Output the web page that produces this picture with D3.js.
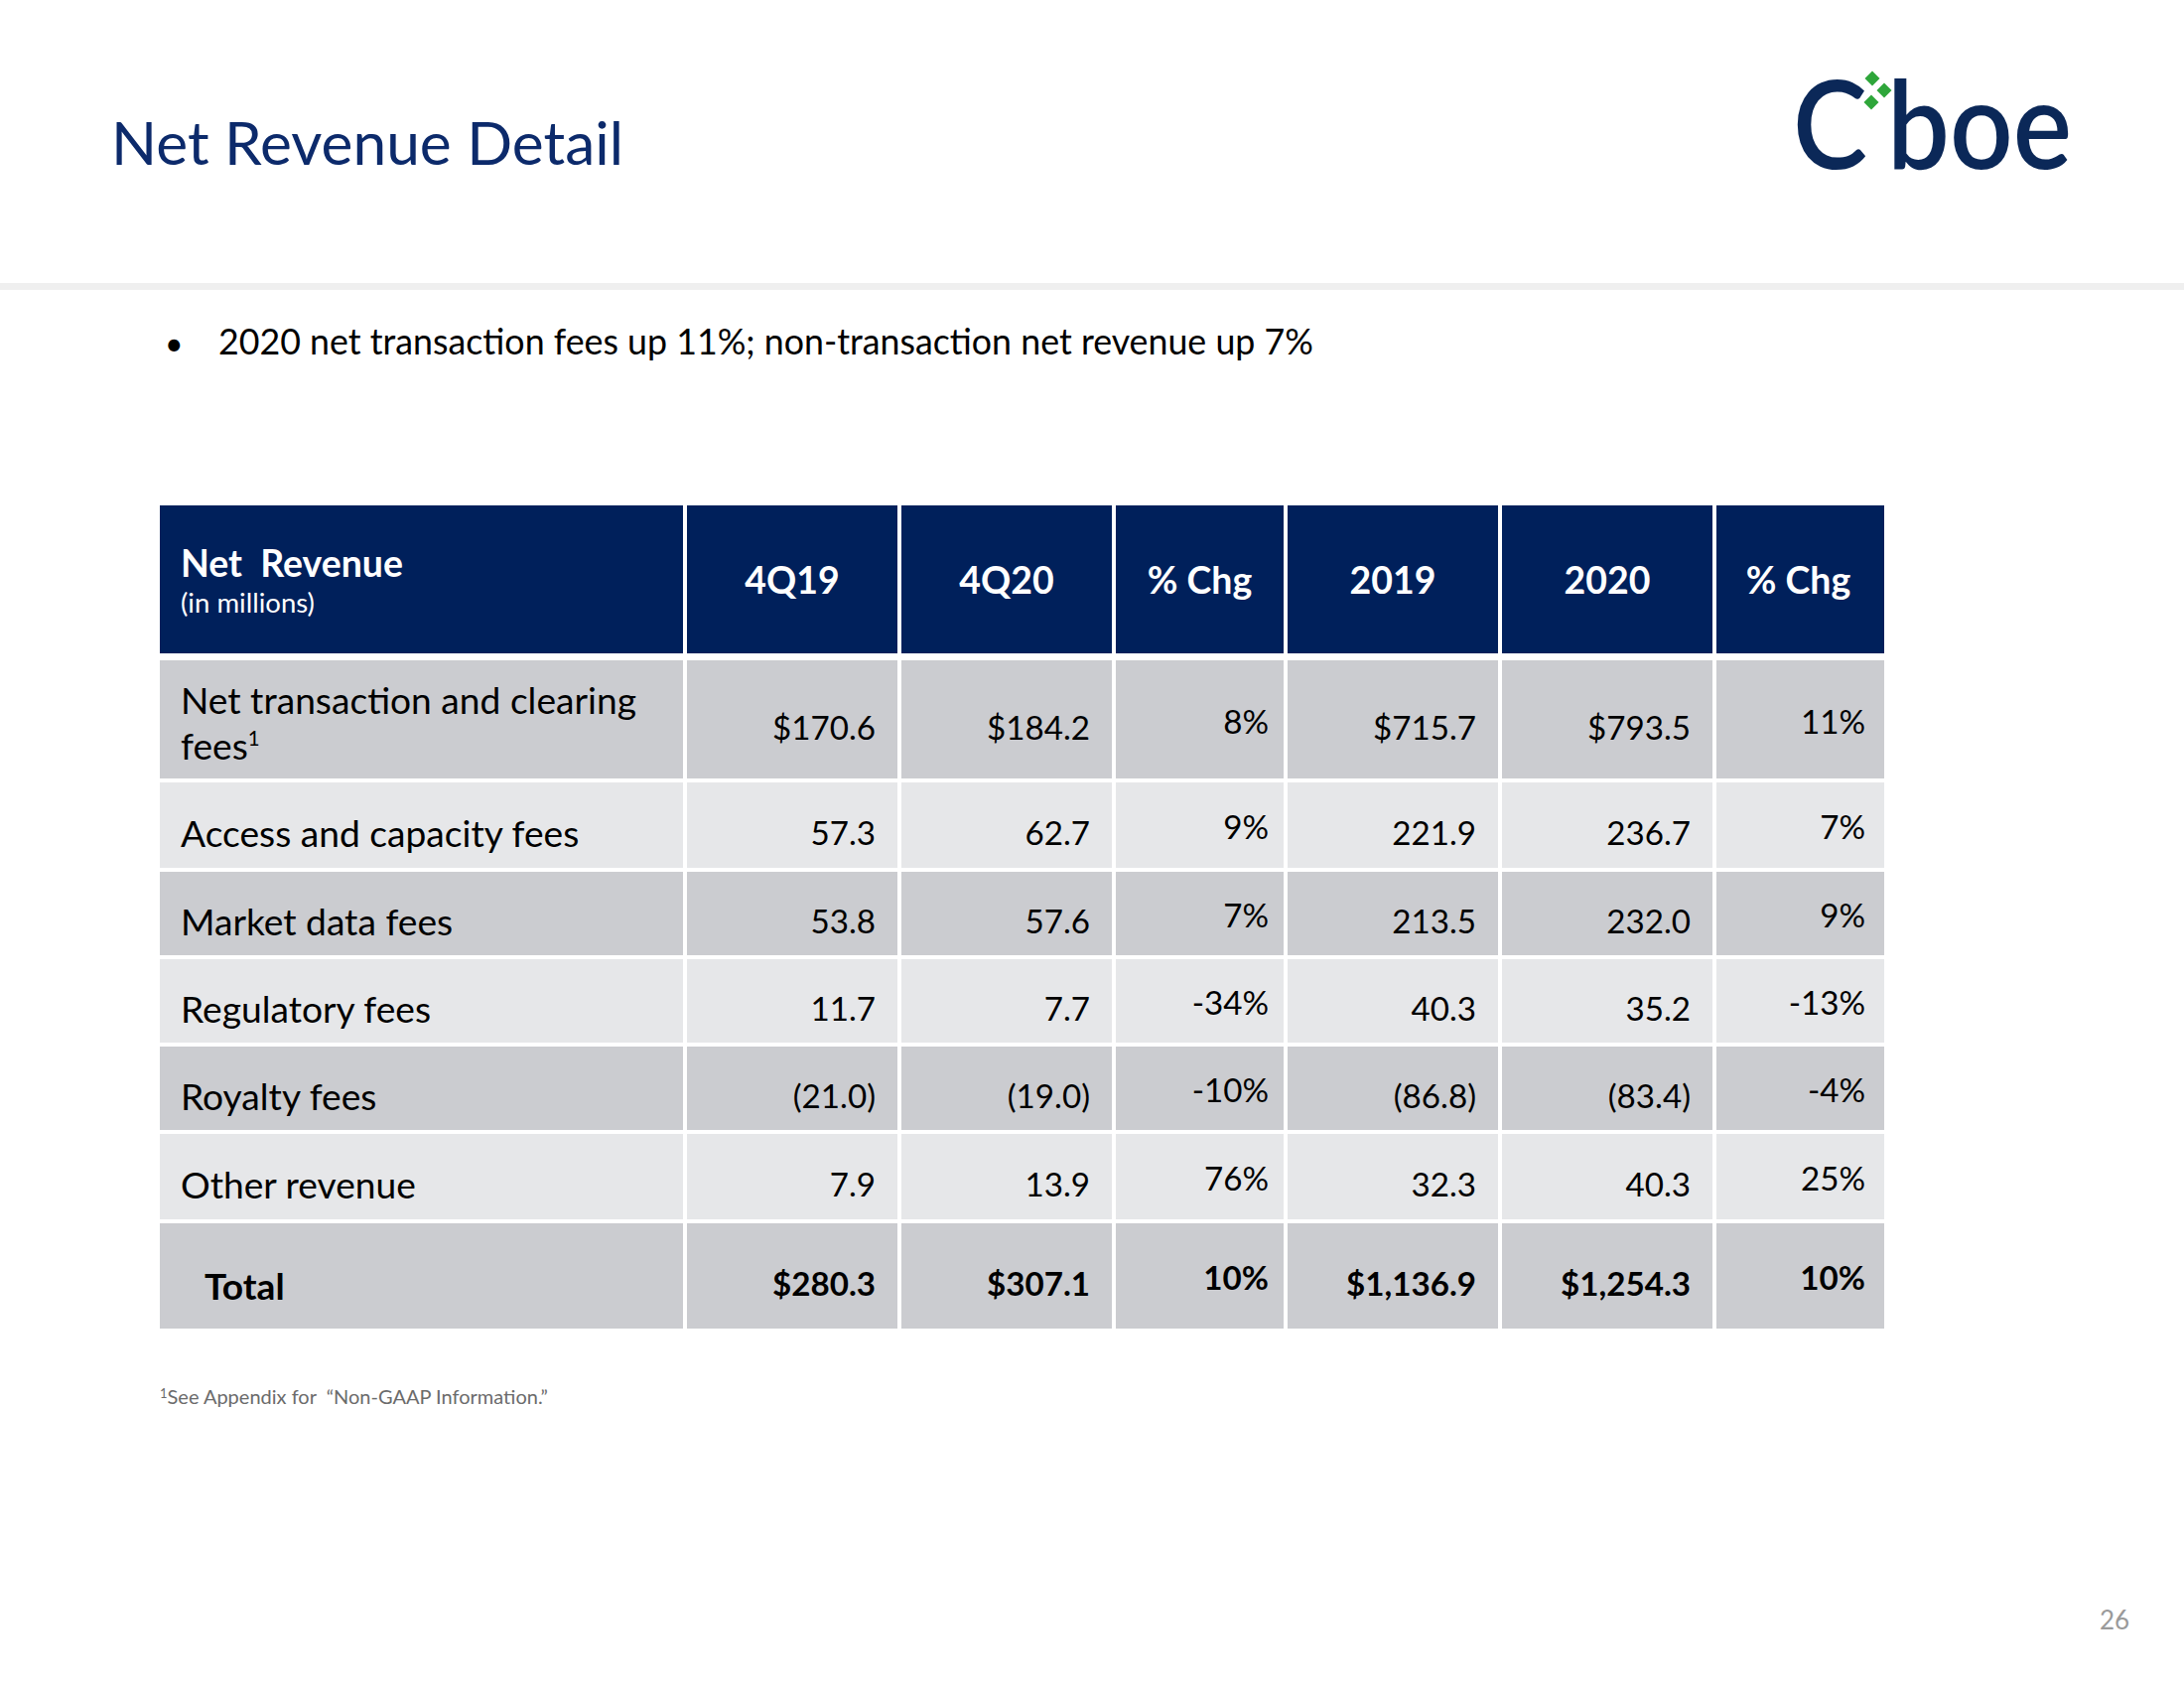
<!DOCTYPE html>
<html>
<head>
<meta charset="utf-8">
<script src="https://cdn.jsdelivr.net/npm/d3@7"></script>
<style>
  html, body { margin: 0; padding: 0; background: #ffffff; }
  svg { display: block; }
  text { font-family: Lato, "Noto Sans", sans-serif; }
</style>
</head>
<body>
<svg id="chart" width="2200" height="1700"></svg>
<script>
// ---------------- data ----------------
const titleText = "Net Revenue Detail";
const bulletText = "2020 net transaction fees up 11%; non-transaction net revenue up 7%";
const headerTitle = "Net  Revenue";
const headerSub = "(in millions)";
const columnLabels = ["4Q19", "4Q20", "% Chg", "2019", "2020", "% Chg"];
const categories = [
  "Net transaction and clearing fees¹",
  "Access and capacity fees",
  "Market data fees",
  "Regulatory fees",
  "Royalty fees",
  "Other revenue"
];
const q4_2019 = [170.6, 57.3, 53.8, 11.7, -21.0, 7.9];
const q4_2020 = [184.2, 62.7, 57.6, 7.7, -19.0, 13.9];
const qChg    = [8, 9, 7, -34, -10, 76];
const fy2019  = [715.7, 221.9, 213.5, 40.3, -86.8, 32.3];
const fy2020  = [793.5, 236.7, 232.0, 35.2, -83.4, 40.3];
const fyChg   = [11, 7, 9, -13, -4, 25];
const totalLabel = "Total";
const totals = [280.3, 307.1, 10, 1136.9, 1254.3, 10];
const footnote = "¹See Appendix for  “Non-GAAP Information.”";
const pageNumber = "26";

// ---------------- layout ----------------
const svg = d3.select("#chart");
const NAVY = "#00205b";
const DARK = "#cbccd0";
const LIGHT = "#e6e7e9";

function fitWidth(sel, target) {
  const node = sel.node();
  const fs = parseFloat(sel.attr("font-size"));
  const w = node.getComputedTextLength();
  if (w > 0) sel.attr("font-size", (fs * target / w).toFixed(2));
  return sel;
}

// title
fitWidth(svg.append("text").attr("x", 112).attr("y", 166)
  .attr("font-size", 60).attr("fill", "#0c2a6b").text(titleText), 516);

// logo
const logo = svg.append("g");
logo.append("text").attr("x", 1806).attr("y", 170)
  .attr("font-family", "Inter").attr("font-weight", 600).attr("font-size", 124)
  .attr("fill", "#0b2858").attr("textLength", 75).attr("lengthAdjust", "spacingAndGlyphs").text("C");
logo.append("text").attr("x", 1901).attr("y", 170)
  .attr("font-family", "Inter").attr("font-weight", 600).attr("font-size", 124)
  .attr("fill", "#0b2858").attr("textLength", 186).attr("lengthAdjust", "spacingAndGlyphs").text("boe");
const diamonds = [[1886, 79], [1898, 91], [1885, 103]];
logo.selectAll("rect.dia").data(diamonds).join("rect")
  .attr("class", "dia")
  .attr("x", -5.3).attr("y", -5.3).attr("width", 10.6).attr("height", 10.6)
  .attr("fill", "#2ea63a")
  .attr("transform", d => `translate(${d[0]},${d[1]}) rotate(45)`);

// separator band
svg.append("rect").attr("x", 0).attr("y", 285).attr("width", 2200).attr("height", 7).attr("fill", "#efefef");

// bullet
svg.append("text").attr("x", 166).attr("y", 358).attr("font-size", 32).attr("fill", "#000").text("•");
fitWidth(svg.append("text").attr("x", 220).attr("y", 357)
  .attr("font-size", 34).attr("fill", "#000").text(bulletText), 1103);

// ---------------- table ----------------
const colKeys = ["label", "c0", "c1", "c2", "c3", "c4", "c5"];
const colWidths = [531, 216, 216, 173, 216, 216, 169];
const tableLeft = 161;
const colLeft = d3.scaleOrdinal().domain(colKeys)
  .range(colWidths.map((w, i) => tableLeft + d3.sum(colWidths.slice(0, i))));
const colW = d3.scaleOrdinal().domain(colKeys).range(colWidths);
const GAP = 4;

const rowKeys = ["header"].concat(categories.map((c, i) => "r" + i)).concat(["total"]);
const rowHeights = [149, 119, 86, 84, 84, 84, 86, 106];
const rowGaps    = [7, 4, 4, 4, 4, 4, 4, 0];
const rowTop = d3.scaleOrdinal().domain(rowKeys)
  .range(rowHeights.map((h, i) => 509 + d3.sum(rowHeights.slice(0, i)) + d3.sum(rowGaps.slice(0, i))));
const rowH = d3.scaleOrdinal().domain(rowKeys).range(rowHeights);

// cell backgrounds
const cells = [];
rowKeys.forEach((r, ri) => {
  colKeys.forEach((c, ci) => {
    const fill = r === "header" ? NAVY : (ri % 2 === 1 ? DARK : LIGHT);
    cells.push({r, c, fill, last: ci === colKeys.length - 1});
  });
});
svg.append("g").selectAll("rect").data(cells).join("rect")
  .attr("x", d => colLeft(d.c))
  .attr("y", d => rowTop(d.r))
  .attr("width", d => colW(d.c) - (d.last ? 0 : GAP))
  .attr("height", d => rowH(d.r))
  .attr("fill", d => d.fill);

// header text
const hdr = svg.append("g");
const hTitle = hdr.append("text").attr("x", 182).attr("y", 581)
  .attr("font-size", 36).attr("font-weight", 700).attr("fill", "#fff")
  .attr("xml:space", "preserve").style("white-space", "pre").text(headerTitle);
fitWidth(hTitle, 224);
const hSize = parseFloat(hTitle.attr("font-size"));
fitWidth(hdr.append("text").attr("x", 182).attr("y", 617)
  .attr("font-size", 25).attr("fill", "#fff").text(headerSub), 135);
hdr.selectAll("text.col").data(columnLabels).join("text")
  .attr("class", "col")
  .attr("x", (d, i) => colLeft(colKeys[i + 1]) + (colW(colKeys[i + 1]) - GAP) / 2)
  .attr("y", 598)
  .attr("text-anchor", "middle")
  .attr("font-size", hSize).attr("font-weight", 700).attr("fill", "#fff")
  .text(d => d);

// formatting
const fmtNum = (v, dollar) => {
  const s = d3.format(",.1f")(Math.abs(v));
  if (v < 0) return "(" + s + ")";
  return (dollar ? "$" : "") + s;
};
const fmtPct = v => v + "%";

// row labels
const labelG = svg.append("g");
const lab0 = labelG.append("text").attr("x", 182).attr("y", 719)
  .attr("font-size", 38).attr("fill", "#000").text("Net transaction and clearing");
fitWidth(lab0, 459);
const labSize = parseFloat(lab0.attr("font-size"));
const l0b = labelG.append("text").attr("x", 182).attr("y", 765)
  .attr("font-size", labSize).attr("fill", "#000");
l0b.append("tspan").text("fees");
l0b.append("tspan").attr("font-size", labSize * 0.55).attr("dy", -labSize * 0.38).text("1");

labelG.selectAll("text.lab").data(categories.slice(1)).join("text")
  .attr("class", "lab")
  .attr("x", 182)
  .attr("y", (d, i) => rowTop("r" + (i + 1)) + rowH("r" + (i + 1)) / 2 + 22)
  .attr("font-size", labSize).attr("fill", "#000")
  .text(d => d);

labelG.append("text").attr("x", 206)
  .attr("y", rowTop("total") + rowH("total") / 2 + 24)
  .attr("font-size", labSize).attr("font-weight", 700).attr("fill", "#000")
  .text(totalLabel);

// numeric cells
const series = [q4_2019, q4_2020, qChg, fy2019, fy2020, fyChg];
const isPct = [false, false, true, false, false, true];
const valueCells = [];
categories.forEach((cat, ri) => {
  series.forEach((s, ci) => {
    valueCells.push({r: "r" + ri, c: colKeys[ci + 1], pct: isPct[ci],
      text: isPct[ci] ? fmtPct(s[ri]) : fmtNum(s[ri], ri === 0), bold: false});
  });
});
totals.forEach((v, ci) => {
  valueCells.push({r: "total", c: colKeys[ci + 1], pct: isPct[ci],
    text: isPct[ci] ? fmtPct(v) : fmtNum(v, true), bold: true});
});

const probe = svg.append("text").attr("font-size", 36).text("$170.6");
fitWidth(probe, 104);
const numSize = parseFloat(probe.attr("font-size"));
probe.remove();

svg.append("g").selectAll("text").data(valueCells).join("text")
  .attr("x", d => colLeft(d.c) + colW(d.c) - GAP - (d.pct ? 15 : 22))
  .attr("y", d => rowTop(d.r) + rowH(d.r) / 2 + (d.pct ? 14 : 20))
  .attr("text-anchor", "end")
  .attr("font-size", numSize)
  .attr("font-weight", d => d.bold ? 700 : 400)
  .attr("fill", "#000")
  .text(d => d.text);

// footnote
const fn = svg.append("text").attr("x", 161).attr("y", 1414)
  .attr("font-size", 20).attr("fill", "#6b6b6b");
fn.append("tspan").attr("font-size", 13).attr("dy", -6).text("1");
fn.append("tspan").attr("dy", 6).attr("xml:space", "preserve").style("white-space", "pre")
  .text(footnote.slice(1));

// page number
svg.append("text").attr("x", 2130).attr("y", 1641).attr("text-anchor", "middle")
  .attr("font-size", 26).attr("fill", "#9a9a9a").text(pageNumber);
</script>
</body>
</html>
